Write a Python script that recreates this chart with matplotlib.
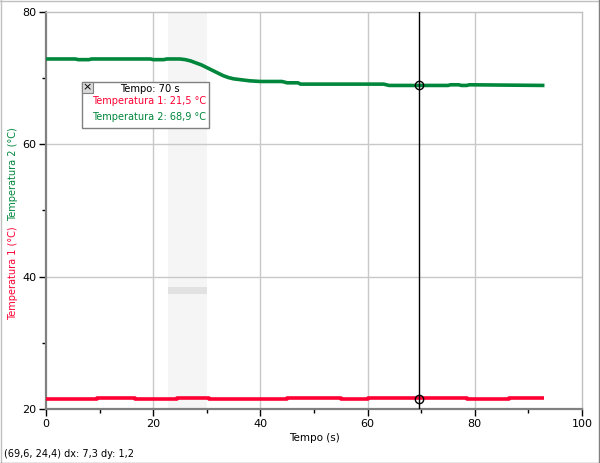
import matplotlib
matplotlib.use("Agg")
import matplotlib.pyplot as plt
from matplotlib.patches import Rectangle
from matplotlib.lines import Line2D

# ---- data ----
t_green = [0, 5.5, 6, 8, 8.5, 19.5, 20, 22, 22.5, 25, 26, 27, 28, 29, 30, 31, 32, 33, 34,
           35, 36, 37, 38, 40, 44, 45, 47, 47.5, 63, 64, 75, 75.5, 77, 77.5, 78.5, 79, 93]
v_green = [72.9, 72.9, 72.8, 72.8, 72.9, 72.9, 72.8, 72.8, 72.9, 72.9, 72.8, 72.6, 72.3,
           72.0, 71.6, 71.2, 70.8, 70.4, 70.1, 69.9, 69.8, 69.7, 69.6, 69.5, 69.5, 69.3,
           69.3, 69.1, 69.1, 68.9, 68.9, 69.0, 69.0, 68.9, 68.9, 69.0, 68.9]

t_red = [0, 9.5, 16.6, 24.4, 30.4, 45, 55, 60, 72.2, 78.5, 86.4, 93]
v_red = [21.5, 21.7, 21.5, 21.7, 21.5, 21.6, 21.5, 21.6, 21.7, 21.5, 21.7, 21.7]

cursor_t = 69.6
cursor_green = 68.9
cursor_red = 21.5

band = (22.8, 30.0)
band_mark = (37.4, 38.4)

x_ticks = [0, 20, 40, 60, 80, 100]
y_ticks = [20, 40, 60, 80]

RED = "#ff0033"
GREEN = "#00873c"

W, H = 600, 463
fig = plt.figure(figsize=(6, 4.63), dpi=100)
fig.patch.set_facecolor("white")

def fx(px):
    return px / W

def fy(py):
    return 1 - py / H

ax = fig.add_axes([fx(46), fy(409), fx(582) - fx(46), fy(12) - fy(409)])
ax.set_xlim(0, 100)
ax.set_ylim(20, 80)

ax.axvspan(band[0], band[1], color="#f5f5f5", zorder=0, lw=0)
ax.fill_between(band, band_mark[0], band_mark[1], color="#e2e2e2", zorder=0.5, lw=0)

for x in [20, 40, 60, 80]:
    ax.axvline(x, color="#c8c8c8", lw=1, zorder=1)
for y in [40, 60]:
    ax.axhline(y, color="#c8c8c8", lw=1, zorder=1)

ax.step(t_red, v_red, where="post", color=RED, lw=2.6, zorder=3, solid_capstyle="butt")
ax.plot(t_green, v_green, color=GREEN, lw=2.6, zorder=3, solid_capstyle="butt")

ax.axvline(cursor_t, color="black", lw=1, zorder=4)
ax.plot([cursor_t, cursor_t], [cursor_green, cursor_red], "o", ms=6, mfc="none",
        mec="black", mew=1, zorder=5)

for s in ["top", "right"]:
    ax.spines[s].set_color("#c0c0c0")
    ax.spines[s].set_linewidth(1)
for s in ["left", "bottom"]:
    ax.spines[s].set_color("#808080")
    ax.spines[s].set_linewidth(1.6)

ax.set_xticks(x_ticks)
ax.set_yticks(y_ticks)
ax.set_xticks([10, 30, 50, 70, 90], minor=True)
ax.set_yticks([30, 50, 70], minor=True)
ax.tick_params(which="major", direction="out", length=5, width=1, color="black",
               labelsize=8, pad=2)
ax.tick_params(which="minor", direction="out", length=3, width=1, color="black")

ax.set_xlabel("Tempo (s)", fontsize=7.5, labelpad=3)

fig.text(fx(13), fy(273), "Temperatura 1 (°C)", rotation=90, color=RED, fontsize=7,
         ha="center", va="center")
fig.text(fx(13), fy(174), "Temperatura 2 (°C)", rotation=90, color=GREEN, fontsize=7,
         ha="center", va="center")

# readout box
bx0, by0, bx1, by1 = 82, 82, 209, 128
fig.add_artist(Rectangle((fx(bx0), fy(by1)), fx(bx1) - fx(bx0), fy(by0) - fy(by1),
                         transform=fig.transFigure, facecolor="white",
                         edgecolor="#808080", lw=1, zorder=10))
fig.add_artist(Rectangle((fx(bx0), fy(93)), fx(93) - fx(bx0), fy(82) - fy(93),
                         transform=fig.transFigure, facecolor="#d8d8d8",
                         edgecolor="#808080", lw=0.8, zorder=11))
fig.text(fx(87.5), fy(87.5), "×", ha="center", va="center", fontsize=8, zorder=12)
fig.text(fx(150), fy(88.5), "Tempo: 70 s", ha="center", va="center", fontsize=7.2,
         color="black", zorder=12)
fig.text(fx(92), fy(101.5), "Temperatura 1: 21,5 °C", ha="left", va="center",
         fontsize=7, color=RED, zorder=12)
fig.text(fx(92), fy(116.5), "Temperatura 2: 68,9 °C", ha="left", va="center",
         fontsize=7, color=GREEN, zorder=12)

fig.text(fx(4), fy(454), "(69,6, 24,4) dx: 7,3 dy: 1,2", ha="left", va="center",
         fontsize=7, color="black")

# window border
fig.add_artist(Line2D([0, 1], [fy(0.5), fy(0.5)], transform=fig.transFigure,
                      color="#c0c0c0", lw=1))
fig.add_artist(Line2D([fx(0.5), fx(0.5)], [0, 1], transform=fig.transFigure,
                      color="#c0c0c0", lw=1))
fig.add_artist(Line2D([fx(598.5), fx(598.5)], [0, 1], transform=fig.transFigure,
                      color="#808080", lw=1))
fig.add_artist(Line2D([0, 1], [fy(462.5), fy(462.5)], transform=fig.transFigure,
                      color="#808080", lw=1))

fig.savefig("out.png", dpi=100)
